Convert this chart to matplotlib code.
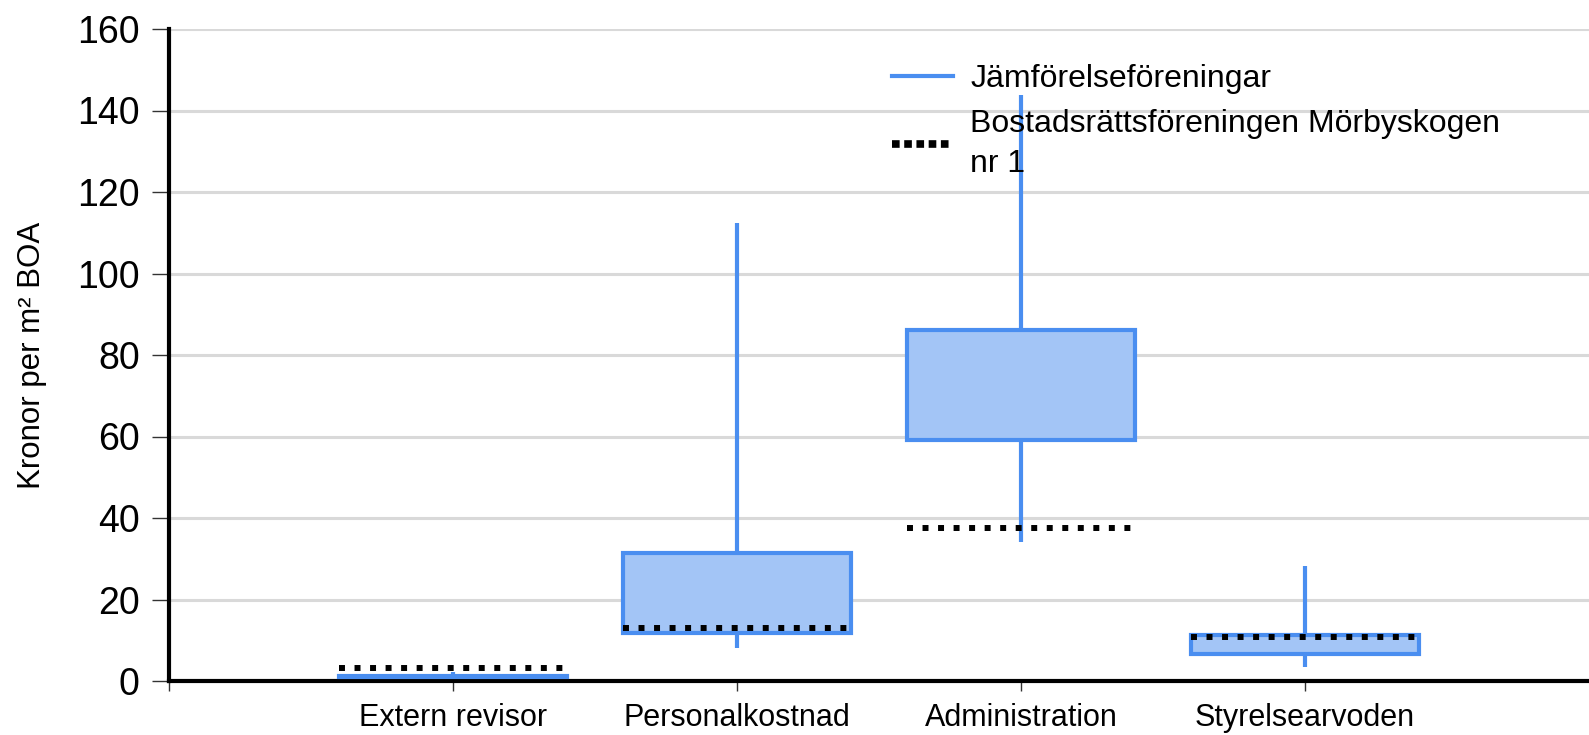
import matplotlib
matplotlib.use("Agg")
import matplotlib.pyplot as plt
from matplotlib.lines import Line2D

plt.rcParams['font.family'] = ['Liberation Sans', 'DejaVu Sans']

# kategorier och värden (kr per m² BOA)
kategorier = ['Extern revisor', 'Personalkostnad', 'Administration', 'Styrelsearvoden']
minimum = [0.9, 8.0, 34.0, 3.5]
kvartil1 = [1.1, 11.9, 59.1, 6.7]
kvartil3 = [1.3, 31.3, 86.2, 11.2]
maximum = [2.3, 112.3, 143.9, 28.3]
forening = [3.3, 12.9, 37.5, 10.9]

BLA = '#4a8ef0'
FYLL = '#a3c5f6'

fig = plt.figure(figsize=(15.89, 7.35), dpi=100)
ax = fig.add_axes([169 / 1589, 54 / 735, 1420 / 1589, 652 / 735])

pos = list(range(1, len(kategorier) + 1))
bredd = 0.8

ax.vlines(pos, minimum, maximum, color=BLA, lw=3, zorder=3)
hojd = [q3 - q1 for q1, q3 in zip(kvartil1, kvartil3)]
ax.bar(pos, hojd, bottom=kvartil1, width=bredd, color=FYLL,
       edgecolor=BLA, linewidth=3, zorder=4)
ax.hlines(forening, [p - bredd / 2 for p in pos], [p + bredd / 2 for p in pos],
          color='black', lw=4.3, linestyles=(0, (1, 1.6)), zorder=5)

ax.set_xlim(0, 5)
ax.set_ylim(0, 160)
ax.set_yticks(range(0, 161, 20))
ax.set_xticks([0] + pos)
ax.set_xticklabels([''] + kategorier, fontsize=22)
ax.tick_params(axis='y', labelsize=27, length=12, width=1, pad=9, color='#333333')
ax.tick_params(axis='x', length=7, width=1, pad=9, color='#333333')

ax.grid(axis='y', color='#d9d9d9', lw=2.2, zorder=0)
ax.set_axisbelow(True)
for s in ['top', 'right']:
    ax.spines[s].set_visible(False)
ax.spines['left'].set_linewidth(3)
ax.spines['bottom'].set_linewidth(3)

ax.set_ylabel('Kronor per m² BOA', fontsize=22.5, labelpad=22)

handtag = [Line2D([], [], color=BLA, lw=3),
           Line2D([], [], color='black', lw=5.5, linestyle=(0, (1, 0.6)))]
leg = ax.legend(handtag, ['Jämförelseföreningar', 'Bostadsrättsföreningen Mörbyskogen\nnr 1'],
                loc='upper left', bbox_to_anchor=(0.489, 0.99), frameon=False,
                fontsize=23, handlelength=1.9, handletextpad=0.55, labelspacing=0.45)
for t in leg.get_texts():
    t.set_linespacing(1.45)

fig.savefig('out.png', dpi=100)
